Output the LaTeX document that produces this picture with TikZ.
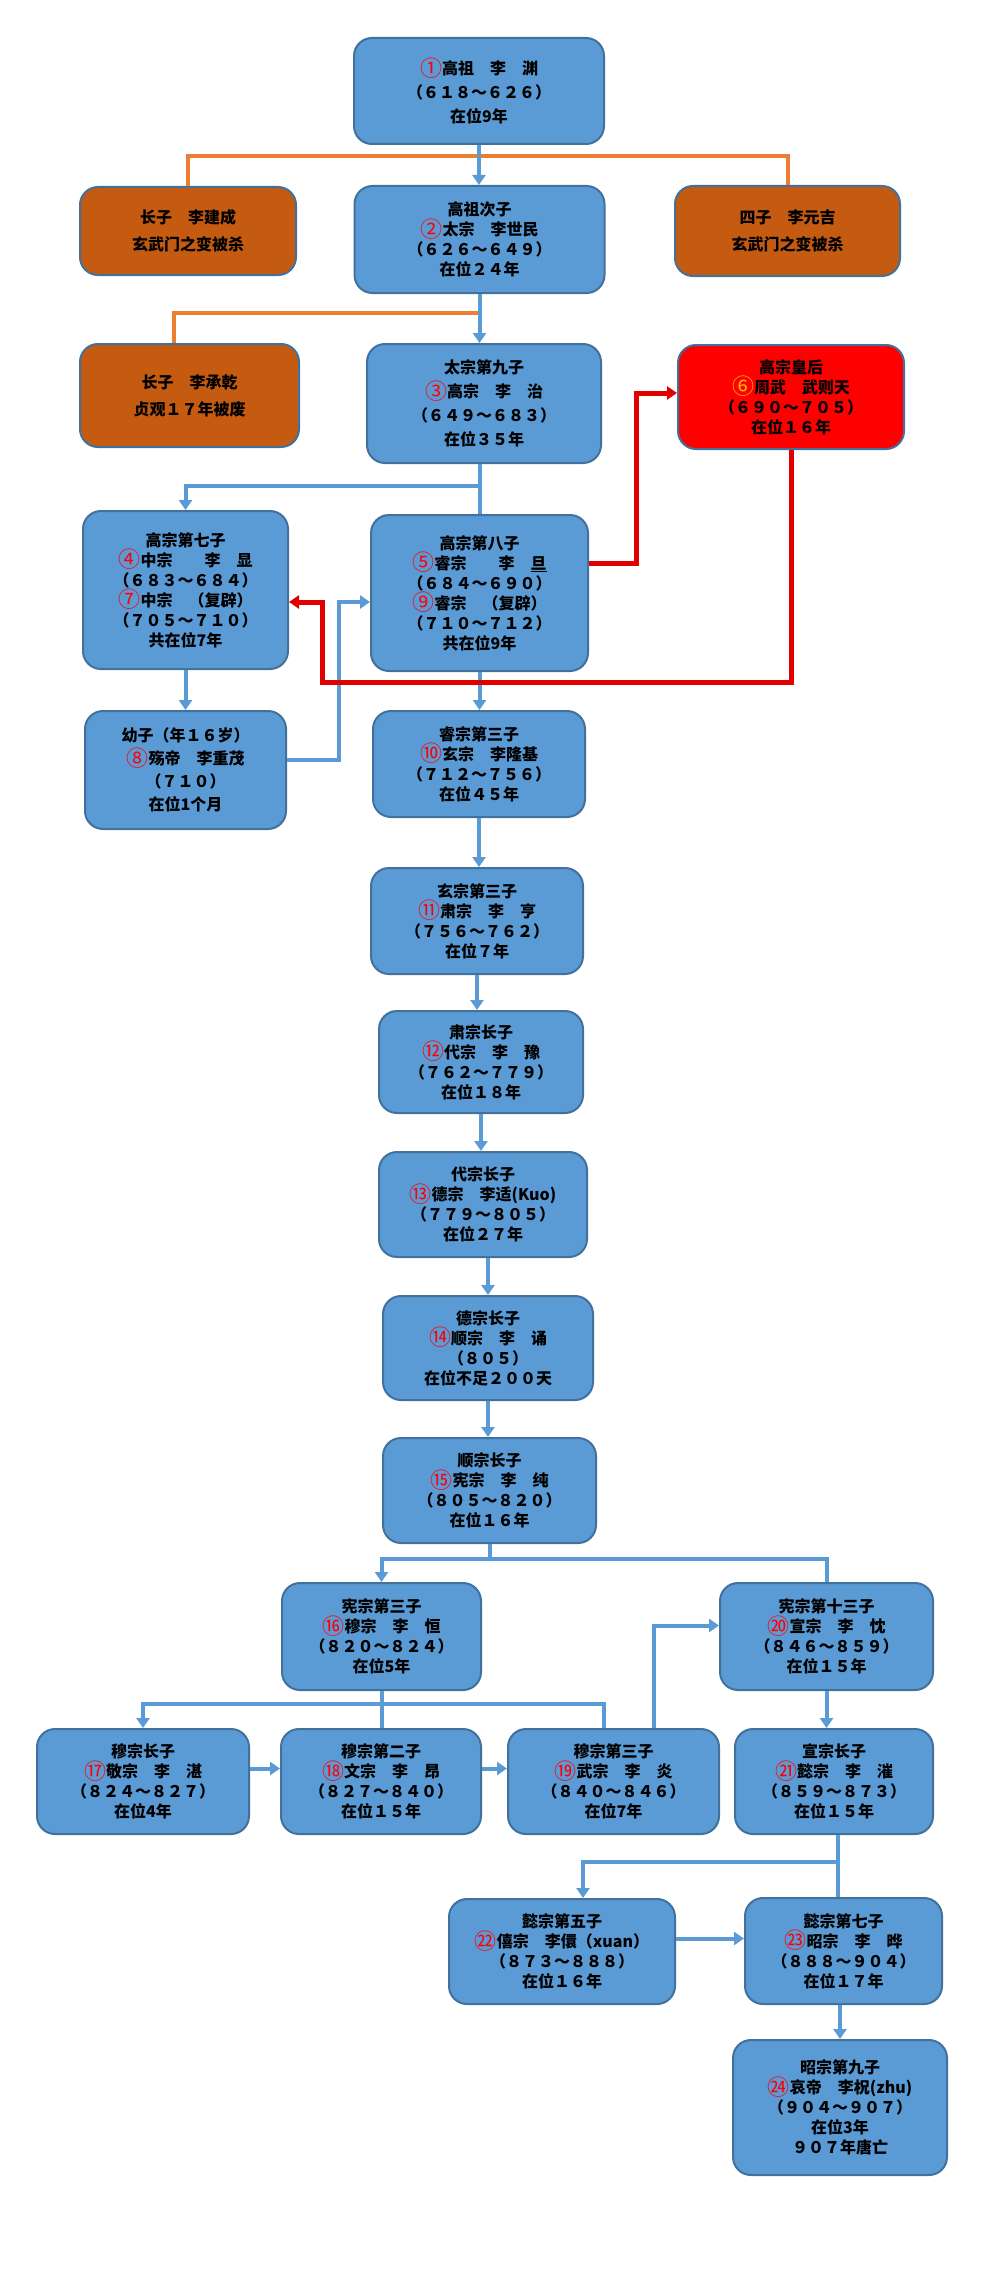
\documentclass[tikz,border=0pt]{standalone}
\usepackage{fontspec}
\newfontfamily\cjk{Noto Sans CJK SC}
\usetikzlibrary{arrows.meta}
\definecolor{cBlueFill}{HTML}{5B9BD5}
\definecolor{cEdge}{HTML}{41719C}
\definecolor{cOrangeFill}{HTML}{C55A11}
\definecolor{cOrangeLine}{HTML}{ED7D31}
\definecolor{cRedFill}{HTML}{FF0000}
\definecolor{cRedLine}{HTML}{E00000}
\definecolor{cGold}{HTML}{FFC000}
\newcommand\cnum[1]{{\color{red}\mdseries\fontsize{22}{20}\selectfont\raisebox{-1.5pt}{#1}}}
\newcommand\cnumgold[1]{{\color{cGold}\mdseries\fontsize{22}{20}\selectfont\raisebox{-1.5pt}{#1}}}
\tikzset{
  box/.style={draw=cEdge, line width=2pt, rounded corners=18pt, align=center, inner sep=2pt,
    font=\cjk\bfseries\fontsize{16}{20}\selectfont, text=black},
  bluebox/.style={box, fill=cBlueFill},
  orangebox/.style={box, fill=cOrangeFill},
  redbox/.style={box, fill=cRedFill},
  bconn/.style={draw=cBlueFill, line width=4pt},
  barrow/.style={bconn, -{Triangle[length=10pt,width=13pt]}},
  oconn/.style={draw=cOrangeLine, line width=4pt},
  rarrow/.style={draw=cRedLine, line width=5pt, -{Triangle[length=10pt,width=13pt]}}
}
\begin{document}
\begin{tikzpicture}[x=1pt,y=-1pt]
\useasboundingbox (0,0) rectangle (1000,2285);
\fill[white] (0,0) rectangle (1000,2285);

% nodes
\node[bluebox, minimum width=250pt, minimum height=106pt] (n1) at (479,91)
  {\cnum{①}高祖　李　渊\\[4pt]（６１８～６２６）\\[4pt]在位9年};
\node[orangebox, minimum width=216pt, minimum height=88pt] (jc) at (188,231)
  {长子　李建成\\[7pt]玄武门之变被杀};
\node[bluebox, minimum width=250pt, minimum height=107pt] (n2) at (479.5,239.5)
  {高祖次子\\\cnum{②}太宗　李世民\\（６２６～６４９）\\在位２４年};
\node[orangebox, minimum width=225pt, minimum height=90pt] (yj) at (787.5,231)
  {四子　李元吉\\[7pt]玄武门之变被杀};
\node[orangebox, minimum width=219pt, minimum height=103pt] (cq) at (189.5,395.5)
  {长子　李承乾\\[7pt]贞观１７年被废};
\node[bluebox, minimum width=234pt, minimum height=119pt] (n3) at (484,403.5)
  {太宗第九子\\[4pt]\cnum{③}高宗　李　治\\[4pt]（６４９～６８３）\\[4pt]在位３５年};
\node[redbox, minimum width=226pt, minimum height=104pt] (n6) at (791,397)
  {高宗皇后\\\cnumgold{⑥}周武　武则天\\（６９０～７０５）\\在位１６年};
\node[bluebox, minimum width=205pt, minimum height=158pt] (n4) at (185.5,590)
  {高宗第七子\\\cnum{④}中宗　　李　显\\（６８３～６８４）\\\cnum{⑦}中宗　（复辟）\\（７０５～７１０）\\共在位7年};
\node[bluebox, minimum width=217pt, minimum height=156pt] (n5) at (479.5,593)
  {高宗第八子\\\cnum{⑤}睿宗　　李　\underline{旦}\\（６８４～６９０）\\\cnum{⑨}睿宗　（复辟）\\（７１０～７１２）\\共在位9年};
\node[bluebox, minimum width=201pt, minimum height=118pt] (n8) at (185.5,770)
  {幼子（年１６岁）\\[3pt]\cnum{⑧}殇帝　李重茂\\[3pt]（７１０）\\[3pt]在位1个月};
\node[bluebox, minimum width=212pt, minimum height=106pt] (n10) at (479,764)
  {睿宗第三子\\\cnum{⑩}玄宗　李隆基\\（７１２～７５６）\\在位４５年};
\node[bluebox, minimum width=212pt, minimum height=106pt] (n11) at (477,921)
  {玄宗第三子\\\cnum{⑪}肃宗　李　亨\\（７５６～７６２）\\在位７年};
\node[bluebox, minimum width=204pt, minimum height=102pt] (n12) at (481,1062)
  {肃宗长子\\\cnum{⑫}代宗　李　豫\\（７６２～７７９）\\在位１８年};
\node[bluebox, minimum width=208pt, minimum height=105pt] (n13) at (483,1204.5)
  {代宗长子\\\cnum{⑬}德宗　李适(Kuo)\\（７７９～８０５）\\在位２７年};
\node[bluebox, minimum width=210pt, minimum height=104pt] (n14) at (488,1348)
  {德宗长子\\\cnum{⑭}顺宗　李　诵\\（８０５）\\在位不足２００天};
\node[bluebox, minimum width=213pt, minimum height=105pt] (n15) at (489.5,1490.5)
  {顺宗长子\\\cnum{⑮}宪宗　李　纯\\（８０５～８２０）\\在位１６年};
\node[bluebox, minimum width=199pt, minimum height=107pt] (n16) at (381.5,1636.5)
  {宪宗第三子\\\cnum{⑯}穆宗　李　恒\\（８２０～８２４）\\在位5年};
\node[bluebox, minimum width=213pt, minimum height=107pt] (n20) at (826.5,1636.5)
  {宪宗第十三子\\\cnum{⑳}宣宗　李　忱\\（８４６～８５９）\\在位１５年};
\node[bluebox, minimum width=212pt, minimum height=105pt] (n17) at (143,1781.5)
  {穆宗长子\\\cnum{⑰}敬宗　李　湛\\（８２４～８２７）\\在位4年};
\node[bluebox, minimum width=200pt, minimum height=105pt] (n18) at (381,1781.5)
  {穆宗第二子\\\cnum{⑱}文宗　李　昂\\（８２７～８４０）\\在位１５年};
\node[bluebox, minimum width=211pt, minimum height=105pt] (n19) at (613.5,1781.5)
  {穆宗第三子\\\cnum{⑲}武宗　李　炎\\（８４０～８４６）\\在位7年};
\node[bluebox, minimum width=198pt, minimum height=105pt] (n21) at (834,1781.5)
  {宣宗长子\\\cnum{㉑}懿宗　李　漼\\（８５９～８７３）\\在位１５年};
\node[bluebox, minimum width=226pt, minimum height=105pt] (n22) at (562,1951.5)
  {懿宗第五子\\\cnum{㉒}僖宗　李儇（xuan）\\（８７３～８８８）\\在位１６年};
\node[bluebox, minimum width=197pt, minimum height=106pt] (n23) at (843.5,1951)
  {懿宗第七子\\\cnum{㉓}昭宗　李　晔\\（８８８～９０４）\\在位１７年};
\node[bluebox, minimum width=214pt, minimum height=135pt] (n24) at (840,2107.5)
  {昭宗第九子\\\cnum{㉔}哀帝　李柷(zhu)\\（９０４～９０７）\\在位3年\\９０７年唐亡};

% orange connectors
\draw[oconn] (jc.north) -- ++(0,-30) -| (yj.north);
\draw[oconn] ([xshift=95pt]cq.north west) -- ++(0,-30) -| (n2.south);

% blue connectors
\draw[barrow] (n1.south) -- (n1.south |- n2.north);
\draw[barrow] (n2.south) -- (n2.south |- n3.north);
\draw[bconn] (n5.north |- n3.south) -- (n5.north);
\draw[barrow] (n5.north |- n3.south) -- ++(0,22) -| (n4.north);
\draw[barrow] (n4.south) -- (n4.south |- n8.north);
\draw[barrow] ([yshift=10pt]n8.east) -- ++(52,0) |- ([yshift=-9pt]n5.west);
\draw[barrow] (n5.south) -- (n5.south |- n10.north);
\draw[barrow] (n10.south) -- (n10.south |- n11.north);
\draw[barrow] (n11.south) -- (n11.south |- n12.north);
\draw[barrow] (n12.south) -- (n12.south |- n13.north);
\draw[barrow] (n14.north |- n13.south) -- (n14.north);
\draw[barrow] (n14.south) -- (n14.south |- n15.north);
\draw[bconn] (n15.south) -- ++(0,15) -| (n20.north);
\draw[barrow] (n15.south) -- ++(0,15) -| (n16.north);
\draw[bconn] (n16.south) -- (n16.south |- n18.north);
\draw[bconn] (n16.south) -- ++(0,13) -| ([xshift=-10pt]n19.north);
\draw[barrow] (n16.south) -- ++(0,13) -| (n17.north);
\draw[barrow] ([yshift=13pt]n17.east) -- ([yshift=13pt]n17.east -| n18.west);
\draw[barrow] ([yshift=13pt]n18.east) -- ([yshift=13pt]n18.east -| n19.west);
\draw[barrow] ([xshift=40pt]n19.north) |- ([yshift=11pt]n20.west);
\draw[barrow] (n20.south) -- (n20.south |- n21.north);
\draw[bconn] ([xshift=4pt]n21.south) -- ([xshift=4pt]n21.south |- n23.north);
\draw[barrow] ([xshift=4pt]n21.south) -- ++(0,27) -| ([xshift=21pt]n22.north);
\draw[barrow] ([yshift=13pt]n22.east) -- ([yshift=13pt]n22.east -| n23.west);
\draw[barrow] (n24.north |- n23.south) -- (n24.north);

% red connectors
\draw[rarrow] ([yshift=30pt]n5.east) -- ++(47,0) |- ([yshift=4pt]n6.west);
\draw[rarrow] (n6.south) -- ++(0,232) -- ++(-469,0) |- ([yshift=-12pt]n4.east);
\end{tikzpicture}
\end{document}
